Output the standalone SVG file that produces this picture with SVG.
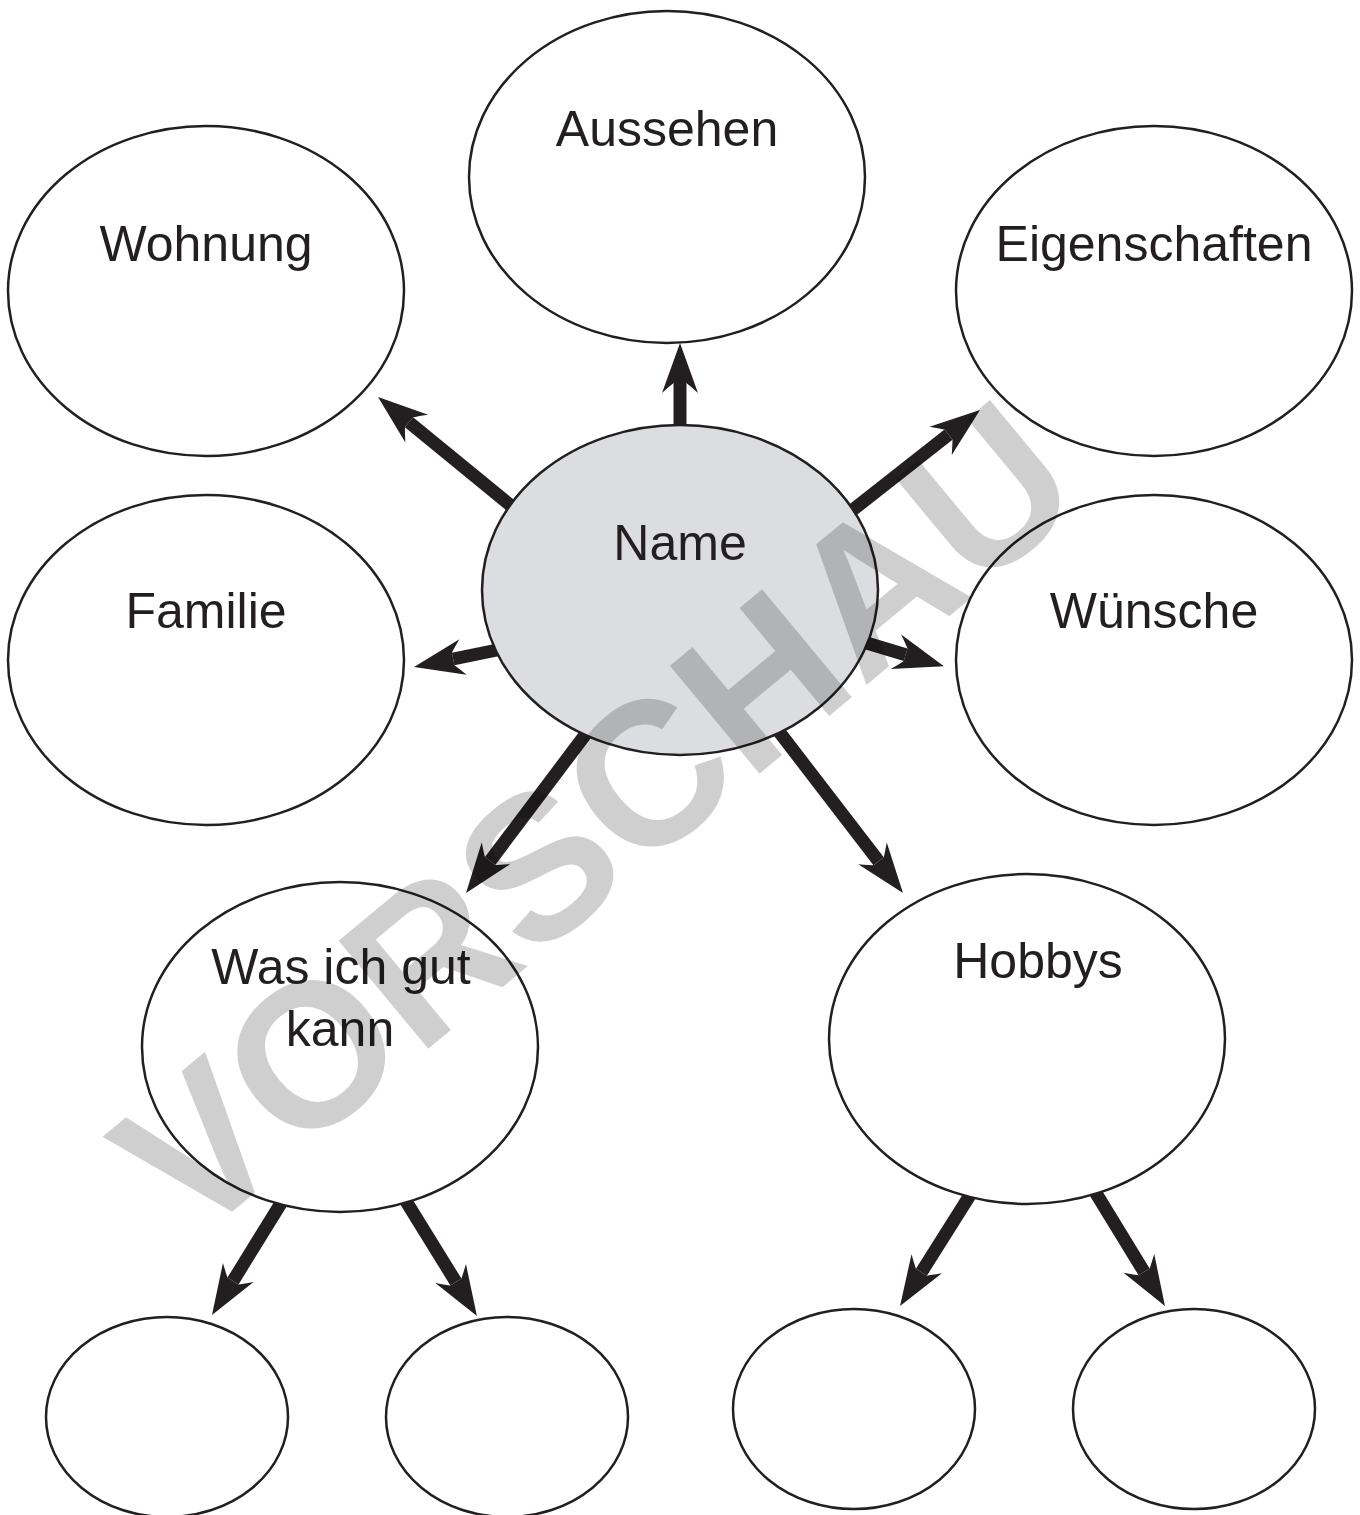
<svg xmlns="http://www.w3.org/2000/svg" width="1360" height="1515" viewBox="0 0 1360 1515">
<style>
.n{fill:#fff;stroke:#231f20;stroke-width:2.5}
.c{fill:#dcdde0;stroke:#231f20;stroke-width:2.5}
.t{font-family:"Liberation Sans",Arial,sans-serif;font-size:50px;fill:#231f20;text-anchor:middle}
.a{stroke:#231f20;stroke-width:13;fill:none;marker-end:url(#h)}
.w{font-family:"Liberation Sans",Arial,sans-serif;font-weight:bold;font-size:204px;fill:#000;fill-opacity:0.19;text-anchor:middle}
</style>
<defs>
<marker id="h" markerUnits="userSpaceOnUse" orient="auto" viewBox="-2 -20 44 40" refX="0" refY="0" markerWidth="44" markerHeight="40" overflow="visible">
<path d="M40,0 L-10,-18 Q-2,-9 0,-6.5 L0,6.5 Q-2,9 -10,18 Z" fill="#231f20"/>
</marker>
</defs>
<rect width="1360" height="1515" fill="#fff"/>
<g id="connectors">
<line class="a" x1="680" y1="425" x2="680" y2="383"/>
<line class="a" x1="515" y1="509" x2="409" y2="422.3"/>
<line class="a" x1="845" y1="516" x2="948.5" y2="434.7"/>
<line class="a" x1="502" y1="649" x2="453.2" y2="659"/>
<line class="a" x1="860" y1="641" x2="905.6" y2="654.7"/>
<line class="a" x1="588" y1="731" x2="490.1" y2="861"/>
<line class="a" x1="777" y1="729" x2="878.6" y2="861.3"/>
<line class="a" x1="283" y1="1200" x2="233" y2="1281"/>
<line class="a" x1="404" y1="1198" x2="455.9" y2="1282"/>
<line class="a" x1="972" y1="1192" x2="921.4" y2="1272.2"/>
<line class="a" x1="1094" y1="1190" x2="1144.1" y2="1271.9"/>
</g>
<g id="aussehen"><ellipse class="n" cx="667" cy="177" rx="198" ry="166"/><text class="t" x="667" y="146">Aussehen</text></g>
<g id="wohnung"><ellipse class="n" cx="206" cy="291" rx="198" ry="165"/><text class="t" x="206" y="261">Wohnung</text></g>
<g id="eigenschaften"><ellipse class="n" cx="1154" cy="291" rx="198" ry="165"/><text class="t" x="1154" y="261">Eigenschaften</text></g>
<g id="familie"><ellipse class="n" cx="206" cy="660" rx="198" ry="165"/><text class="t" x="206" y="628">Familie</text></g>
<g id="wuensche"><ellipse class="n" cx="1154" cy="660" rx="198" ry="165"/><text class="t" x="1154" y="628">Wünsche</text></g>
<g id="name"><ellipse class="c" cx="680" cy="590" rx="198" ry="165"/><text class="t" x="680" y="560">Name</text></g>
<g id="gutkann"><ellipse class="n" cx="340" cy="1047" rx="198" ry="165"/><text class="t" x="341" y="984">Was ich gut</text><text class="t" x="340" y="1046">kann</text></g>
<g id="hobbys"><ellipse class="n" cx="1027" cy="1039" rx="198" ry="165"/><text class="t" x="1038" y="978">Hobbys</text></g>
<g id="s1"><ellipse class="n" cx="167" cy="1417" rx="121" ry="100"/></g>
<g id="s2"><ellipse class="n" cx="507" cy="1417" rx="121" ry="100"/></g>
<g id="s3"><ellipse class="n" cx="854" cy="1409" rx="121" ry="100"/></g>
<g id="s4"><ellipse class="n" cx="1194" cy="1409" rx="121" ry="100"/></g>
<text class="w" transform="translate(640,873) rotate(-39.7)" x="0" y="0">VORSCHAU</text>
</svg>
